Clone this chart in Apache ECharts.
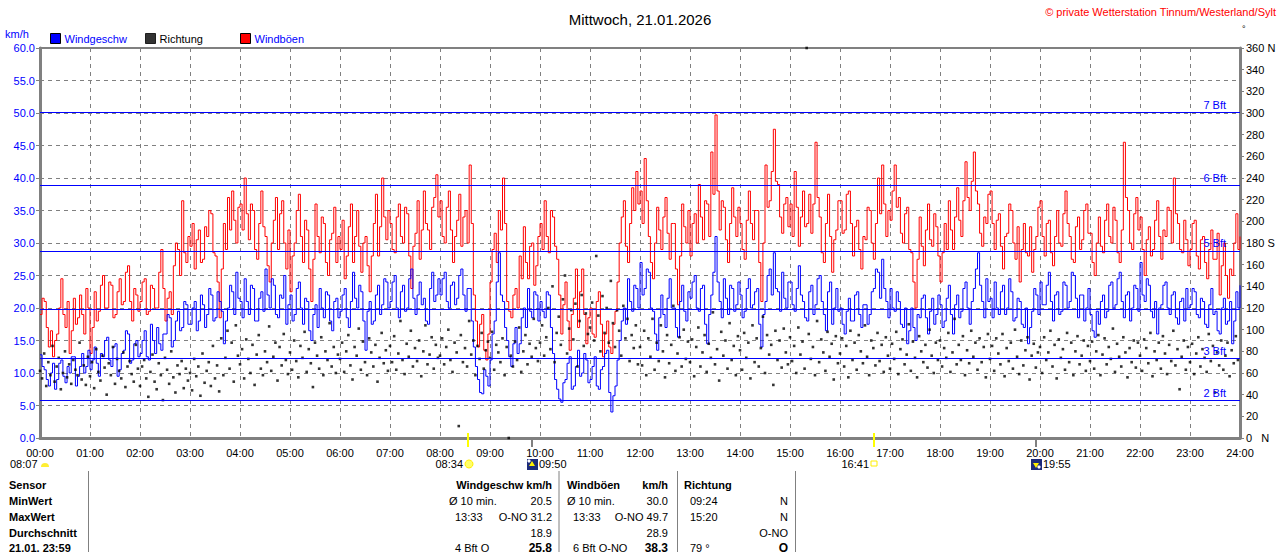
<!DOCTYPE html>
<html><head><meta charset="utf-8">
<script src="https://cdn.jsdelivr.net/npm/echarts@6/dist/echarts.min.js"></script>
<style>html,body{margin:0;padding:0;background:#fff;overflow:hidden}#c{width:1280px;height:552px}</style>
</head><body><div id="c"></div>
<script>
// ---- data ----
const stepMinutes = 2.5;          // wind speed / gust sampling
const speed = [
12.8,11.0,10.5,9.0,8.0,10.0,11.5,7.5,9.0,11.5,12.0,9.5,8.5,11.0,10.0,12.5,12.5,8.0,9.5,11.0,13.0,10.0,11.0,13.5,
10.5,12.0,14.0,11.5,9.5,13.0,12.5,15.0,15.5,12.0,11.0,14.0,14.5,9.5,10.5,13.0,13.5,16.5,16.0,11.5,12.0,14.5,15.0,12.5,
13.0,15.0,16.5,12.5,12.0,17.5,15.0,13.0,17.0,14.5,13.5,16.0,16.0,19.0,18.5,14.0,15.0,18.0,19.5,16.5,17.0,21.0,20.5,17.5,
17.5,20.0,21.0,16.5,18.0,22.0,20.5,17.0,19.0,23.0,22.0,18.0,18.5,22.5,21.0,19.5,14.5,18.0,20.0,23.5,22.5,19.0,25.5,21.5,
21.0,18.5,24.5,21.0,19.0,23.5,23.0,18.0,18.0,21.5,22.5,19.5,26.0,22.0,20.0,24.5,23.5,19.0,18.5,22.0,21.5,25.0,17.5,20.5,
22.0,18.0,19.0,23.0,24.0,20.0,17.5,21.5,21.0,16.5,15.0,19.0,20.5,17.0,23.0,20.0,18.5,22.5,22.0,18.0,16.5,21.0,21.5,18.5,
19.5,22.0,23.0,18.5,17.0,21.0,25.5,21.5,20.0,23.5,22.5,18.0,13.5,19.5,21.0,17.5,18.0,22.0,23.5,19.0,20.5,24.5,24.0,20.0,
21.0,24.0,25.0,20.0,18.5,22.5,23.5,19.5,20.0,24.5,26.0,21.5,19.0,22.0,24.0,20.5,21.5,18.0,17.5,23.0,25.5,21.0,22.0,24.5,
22.0,24.5,25.5,21.0,20.0,23.5,24.0,20.5,21.5,25.0,26.0,22.0,19.5,23.0,23.0,18.0,14.0,11.0,9.0,7.0,6.8,10.5,9.5,8.0,
12.0,16.0,18.0,24.0,28.5,22.0,21.0,17.0,15.0,12.5,11.0,14.5,17.0,13.0,14.5,18.5,20.0,17.0,23.0,19.5,18.5,22.5,22.0,18.0,
21.0,19.5,18.5,22.5,22.0,17.0,13.0,9.0,7.5,6.0,5.5,8.5,9.0,11.5,12.5,7.5,8.0,11.0,13.5,9.5,10.0,13.0,12.0,8.5,
9.0,11.0,12.5,8.0,7.5,10.5,11.0,13.0,13.5,7.0,4.0,6.5,8.0,12.0,15.0,18.0,20.0,17.5,24.5,21.0,19.5,23.5,23.0,20.0,
27.0,22.0,23.0,26.0,25.5,20.0,19.5,16.0,13.5,18.5,22.0,19.0,17.0,21.5,24.5,20.0,20.0,17.0,15.5,21.0,23.5,19.5,18.0,22.5,
21.5,24.0,25.0,20.0,19.5,23.0,23.5,17.5,14.5,19.0,22.0,25.5,31.0,24.0,21.0,18.5,24.5,21.5,19.0,23.5,23.0,19.5,20.5,24.0,
22.0,18.5,19.5,23.0,24.5,20.0,20.5,22.5,23.0,17.5,14.0,19.0,21.0,25.0,26.0,22.0,28.5,23.0,22.5,19.5,25.5,21.5,20.0,24.0,
24.0,20.5,19.5,23.0,26.5,22.0,21.0,18.5,18.0,22.5,23.5,19.0,20.5,24.5,25.0,21.0,19.0,16.5,22.5,24.0,17.5,20.0,23.0,19.5,
20.0,17.5,16.0,19.5,21.5,18.0,18.0,22.0,22.5,19.0,17.0,20.5,20.5,17.5,19.0,22.5,23.0,26.0,25.5,21.5,27.5,23.0,21.0,18.5,
23.0,20.0,19.5,22.5,21.0,17.5,17.0,20.0,14.5,16.5,20.0,17.0,15.0,19.0,18.5,21.5,22.0,18.5,16.0,19.5,21.5,17.5,19.0,22.0,
20.5,17.0,18.0,21.5,23.5,19.0,16.0,20.5,22.0,18.5,19.5,23.0,24.0,20.0,17.5,21.0,23.0,26.0,28.5,23.5,21.0,18.5,24.5,21.0,
21.5,18.5,24.0,20.0,19.0,22.5,23.5,19.0,20.0,24.5,22.5,18.0,18.5,21.5,21.0,17.5,17.0,20.0,14.5,17.0,19.5,23.0,22.0,19.0,
24.0,20.5,20.5,23.5,25.5,21.0,18.0,22.0,22.5,19.0,19.5,24.0,23.5,20.0,21.0,25.5,25.0,21.5,18.5,22.0,22.0,18.0,20.0,23.0,
19.0,16.5,15.5,19.5,17.5,21.0,22.0,18.5,19.5,23.5,24.0,20.0,20.5,24.5,25.5,21.0,18.5,22.0,22.5,18.0,20.0,23.5,23.0,19.5,
27.0,22.0,21.0,24.5,23.5,19.5,18.5,21.0,16.0,20.0,20.5,23.5,24.0,20.0,19.0,22.0,22.5,18.5,17.5,21.0,21.5,18.0,23.0,20.0,
20.5,23.0,22.5,19.0,18.5,21.5,21.0,17.5,17.0,20.5,23.0,19.0,19.5,16.5,16.0,20.0,21.5,17.5,18.0,21.0,14.5,18.0,22.5,20.0,
23.5];
const gust = [
19.0,21.5,21.0,17.0,14.0,16.5,12.5,15.0,16.0,20.0,24.5,19.0,17.0,21.0,13.0,16.5,21.5,17.5,18.5,22.0,19.0,16.0,23.0,20.0,
13.0,17.0,22.5,18.0,19.5,23.5,25.0,20.0,20.0,24.0,23.5,18.5,19.0,22.5,24.5,20.5,21.0,25.5,26.5,21.0,18.0,23.0,22.0,19.5,
21.0,24.0,24.5,19.0,19.5,23.5,23.0,20.0,20.0,25.5,29.0,23.0,18.0,21.5,22.5,19.0,26.5,30.0,29.0,25.0,36.5,28.5,27.0,31.0,
29.5,33.0,26.0,30.5,32.0,27.0,27.5,32.5,31.0,35.0,34.5,28.5,28.0,24.0,18.5,26.0,33.0,29.0,37.0,32.0,38.0,33.5,30.0,35.5,
36.0,32.0,40.0,34.5,30.5,36.0,35.0,29.0,27.5,33.0,38.0,32.5,31.0,26.5,24.0,30.0,33.5,37.0,29.0,34.5,36.5,30.0,26.0,32.0,
22.5,28.0,30.0,35.0,37.5,31.0,27.0,33.5,32.0,26.0,21.0,27.5,36.0,31.0,28.5,34.0,33.0,27.0,25.0,30.5,31.5,35.5,27.0,31.0,
29.0,33.5,24.5,28.0,32.5,36.0,27.0,31.0,35.0,29.5,25.5,30.0,31.0,26.5,22.5,28.0,33.0,37.5,28.0,32.5,40.0,34.0,30.5,35.0,
33.0,29.0,28.5,34.0,36.0,31.0,30.0,35.5,34.5,28.0,23.0,29.5,31.5,36.5,27.5,32.0,38.0,33.0,32.0,29.0,35.5,37.0,40.5,34.0,
36.5,31.0,30.0,35.5,38.0,32.0,27.0,31.0,33.5,37.5,29.5,34.0,35.0,30.0,42.0,33.0,22.0,18.0,14.0,17.5,19.0,13.5,12.0,16.0,
24.0,29.0,31.5,27.0,35.0,32.0,40.0,33.0,21.0,19.5,18.5,22.0,23.0,20.0,28.0,24.5,32.5,27.0,24.5,29.5,30.0,23.5,26.5,31.0,
33.0,29.0,36.5,31.0,28.5,35.0,34.0,29.5,27.5,22.0,16.0,20.5,24.0,18.0,13.5,19.0,21.5,26.0,17.0,22.5,26.0,19.0,14.5,18.5,
20.0,16.0,15.5,21.0,22.5,17.5,12.5,16.0,18.0,14.0,13.0,17.5,19.5,24.0,30.0,34.0,36.5,29.5,27.0,33.0,38.5,35.0,41.0,36.0,
38.0,33.0,43.0,36.5,31.0,27.0,24.5,30.0,35.5,32.0,29.0,34.0,37.0,31.5,27.5,33.0,33.0,26.0,20.5,28.0,36.0,32.5,30.0,35.0,
28.0,33.0,34.5,30.0,39.0,34.0,30.5,36.5,36.0,31.0,44.0,37.5,49.7,38.0,32.0,36.5,35.5,30.5,27.0,33.0,38.5,34.0,31.0,35.5,
33.0,29.0,27.5,33.5,38.0,33.0,30.5,35.0,35.0,27.0,21.0,30.0,42.0,35.5,36.5,41.0,47.5,39.5,39.0,34.0,31.5,36.0,37.0,32.5,
36.0,31.0,41.0,35.5,29.5,34.0,38.0,32.5,33.0,37.5,31.5,36.0,45.5,37.0,34.0,28.5,27.0,33.0,37.5,31.0,25.5,30.5,32.0,36.5,
36.5,31.5,32.0,37.5,38.0,33.0,28.0,32.5,33.5,29.0,26.0,31.0,30.5,35.5,35.0,30.0,27.5,33.0,40.0,34.5,42.0,36.0,31.0,35.0,
33.5,38.0,42.0,35.5,37.0,31.5,30.0,34.5,35.5,29.0,28.5,24.0,20.0,27.5,34.0,29.5,26.5,32.0,36.0,30.5,29.5,34.5,32.5,28.0,
24.0,28.5,33.0,29.0,36.5,32.0,29.0,34.0,38.5,33.5,31.0,36.5,42.5,37.0,35.0,39.5,44.0,38.0,36.0,31.5,29.5,34.0,33.0,37.5,
38.0,33.0,29.0,33.5,34.5,29.5,26.0,31.0,31.5,36.0,35.0,30.0,27.5,32.5,24.0,29.0,33.0,28.5,28.0,32.5,25.5,29.0,31.0,35.5,
36.5,31.0,28.0,33.0,33.5,28.5,26.5,31.0,35.0,30.0,29.5,34.5,38.0,33.0,31.0,27.5,27.0,32.5,34.0,29.0,30.5,35.0,36.0,31.5,
31.5,27.0,25.0,30.0,34.0,29.5,28.5,33.5,36.0,31.0,30.0,35.5,33.5,28.5,27.0,32.0,45.5,37.0,35.0,30.0,29.0,34.5,37.0,32.0,
34.0,29.0,25.0,30.5,32.5,28.0,29.0,33.5,36.5,31.0,27.5,32.0,31.0,35.5,35.0,30.0,40.0,34.5,33.0,29.0,28.5,33.5,30.5,26.5,
29.0,33.0,33.5,28.0,26.0,30.5,31.0,27.0,24.5,29.0,32.0,27.5,27.5,31.5,22.0,26.5,30.0,25.0,21.5,26.0,25.0,30.0,34.5,29.0,
31.0];
const dirStep = 2.5;              // direction sampling (minutes)
const direction = [
62,55,78,48,70,58,85,52,66,74,45,60,80,56,68,50,72,63,58,88,54,67,49,75,
57,70,46,82,61,53,76,65,40,69,58,84,50,73,62,55,79,47,66,71,59,52,86,64,
48,66,72,55,38,61,77,52,45,69,58,35,74,63,50,80,56,42,67,59,71,46,64,53,
60,44,73,57,66,39,78,51,62,70,48,85,55,67,43,92,58,74,99,64,88,52,104,76,
68,82,55,91,73,60,86,49,77,95,64,58,80,70,103,62,75,88,53,84,67,96,72,59,
79,63,90,71,56,85,74,98,61,82,69,47,88,76,64,93,58,80,72,106,66,84,60,77,
73,88,61,80,95,67,54,84,76,101,63,89,70,58,92,79,66,86,52,74,97,69,81,62,
85,70,94,63,78,108,72,59,87,75,99,66,83,71,90,57,80,104,68,77,93,64,86,74,
76,92,68,84,100,72,61,88,79,11,95,70,83,66,108,77,90,58,85,73,97,64,81,89,
74,98,63,86,79,70,92,58,84,0,76,66,89,72,102,61,80,95,68,87,75,110,83,71,
88,104,76,93,120,82,140,70,97,112,86,128,150,78,101,118,91,124,66,108,132,85,115,96,
102,125,90,168,113,80,131,97,120,88,145,106,84,118,99,76,122,92,110,71,95,83,104,68,
84,67,99,58,92,75,110,63,88,71,104,80,56,95,69,86,122,62,78,93,66,100,73,89,
70,91,57,84,102,66,79,95,61,87,74,116,68,82,53,98,76,90,64,106,72,85,58,94,
81,63,97,74,88,55,104,70,92,66,83,112,60,95,77,86,49,99,72,90,65,101,79,68,
93,71,85,60,102,77,89,64,360,96,73,84,58,108,70,91,79,62,98,75,87,54,94,69,
78,92,66,85,56,99,72,88,63,95,80,69,104,75,58,90,83,67,97,71,86,61,93,76,
64,87,73,98,59,82,91,68,77,105,62,89,74,56,94,80,70,86,65,100,76,60,88,72,
90,66,83,74,97,61,79,110,68,86,72,94,58,81,69,99,75,88,63,92,70,84,56,96,
73,85,62,92,78,68,96,57,83,71,88,64,100,75,59,90,67,81,93,54,76,87,65,79,
84,60,93,72,79,99,66,86,55,91,74,82,63,97,70,88,58,80,94,68,76,90,62,85,
71,89,64,80,95,58,77,92,68,84,73,101,61,87,75,66,93,79,56,83,70,90,65,88,
76,62,91,83,69,97,57,80,72,88,64,94,78,59,86,71,99,67,82,45,75,90,63,84,
70,87,59,78,93,66,82,74,61,96,71,85,42,79,67,90,63,76,88,57,81,69,94,72];
const bftLevels = [5.76, 12.24, 19.8, 28.8, 38.88, 50.04];
const bftLabels = ['2 Bft', '3 Bft', '', '5 Bft', '6 Bft', '7 Bft'];
const xTickLabels = ['00:00','01:00','02:00','03:00','04:00','05:00','06:00','07:00','08:00','09:00','10:00','11:00','12:00',
  '13:00','14:00','15:00','16:00','17:00','18:00','19:00','20:00','21:00','22:00','23:00','24:00'];
const dirNamedTicks = {0: '0   N', 180: '180 S', 360: '360 N'};
const astroTimes = ['08:34', '09:50', '16:41', '19:55'];
const astroKinds = ['sunrise', 'moonset', 'sunset', 'moonrise'];
const firstAstro = '08:07';
const tableRows = ['Sensor', 'MinWert', 'MaxWert', 'Durchschnitt', '21.01. 23:59'];
const tblSpeed = ['Ø 10 min.', '20.5', '13:33', 'O-NO 31.2', '18.9', '4 Bft O', '25.8'];
const tblGust = ['Ø 10 min.', '30.0', '13:33', 'O-NO 49.7', '28.9', '6 Bft O-NO', '38.3'];
const tblDir = ['09:24', 'N', '15:20', 'N', 'O-NO', '79 °', 'O'];

// ---- chart ----
const FONT = "'Liberation Sans', Arial, sans-serif";
const chart = echarts.init(document.getElementById('c'), null, {renderer: 'svg'});
const speedData = speed.map((v, i) => [i * stepMinutes, v]);
const gustData = gust.map((v, i) => [i * stepMinutes, v]);
const dirData = direction.map((v, i) => [i * dirStep, v]);
const GRID = '#808080';

function legendItem(name, left, color) {
  return {data: [{name: name, textStyle: {color: color}}], left: left, top: 33, padding: 0,
    itemWidth: 10, itemHeight: 10, itemGap: 0, icon: 'rect', selectedMode: false,
    itemStyle: {borderColor: '#000', borderWidth: 1},
    textStyle: {fontFamily: FONT, fontSize: 11, padding: [0, 0, 0, -1]}};
}

const option = {
  animation: false,
  backgroundColor: '#fff',
  title: {text: 'Mittwoch, 21.01.2026', left: 'center', top: 7,
    textStyle: {fontFamily: FONT, fontSize: 15, fontWeight: 'normal', color: '#000'}},
  legend: [legendItem('Windgeschw', 50, '#0000ff'), legendItem('Richtung', 145, '#000'), legendItem('Windböen', 240, '#0000ff')],
  grid: {left: 40, right: 40, top: 48, bottom: 114, show: true, borderColor: GRID, borderWidth: 2, backgroundColor: 'transparent'},
  xAxis: {type: 'value', min: 0, max: 1440, interval: 60,
    axisLine: {lineStyle: {color: GRID, width: 3}}, axisTick: {show: false},
    axisLabel: {margin: 9, color: '#000', fontFamily: FONT, fontSize: 11, formatter: v => xTickLabels[v / 60]},
    splitLine: {show: true, lineStyle: {color: GRID, type: [4, 4], width: 1}}},
  yAxis: [
    {type: 'value', min: 0, max: 60, interval: 5, position: 'left',
      axisLine: {show: true, lineStyle: {color: GRID, width: 3}},
      axisTick: {show: true, length: 4, lineStyle: {color: GRID}},
      axisLabel: {margin: 5, color: '#0000ff', fontFamily: FONT, fontSize: 11, formatter: v => v.toFixed(1)},
      splitLine: {show: true, lineStyle: {color: GRID, type: [4, 4], width: 1}}},
    {type: 'value', min: 0, max: 360, interval: 20, position: 'right',
      axisLine: {show: true, lineStyle: {color: GRID, width: 3}},
      axisTick: {show: true, length: 4, lineStyle: {color: GRID}},
      axisLabel: {margin: 6, color: '#000', fontFamily: FONT, fontSize: 11,
        formatter: v => (dirNamedTicks[v] !== undefined ? dirNamedTicks[v] : String(v))},
      splitLine: {show: false}}
  ],
  series: [
    {name: 'bft', type: 'line', data: [], z: 1, silent: true,
      markLine: {silent: true, symbol: 'none', animation: false,
        lineStyle: {color: '#0000ff', type: 'solid', width: 1},
        label: {show: true, position: 'insideEndTop', distance: [14, 2], color: '#0000ff',
          fontFamily: FONT, fontSize: 11, formatter: p => p.name},
        data: bftLevels.map((v, i) => ({yAxis: v, name: bftLabels[i]}))}},
    {name: 'Windböen', type: 'line', step: 'end', data: gustData, z: 2, showSymbol: false, symbol: 'none',
      color: '#ff0000', lineStyle: {color: '#ff0000', width: 1}, silent: true},
    {name: 'Windgeschw', type: 'line', step: 'end', data: speedData, z: 3, showSymbol: false, symbol: 'none',
      color: '#0000ff', lineStyle: {color: '#0000ff', width: 1}, silent: true},
    {name: 'Richtung', type: 'scatter', yAxisIndex: 1, data: dirData, z: 4, symbol: 'rect', symbolSize: 2.6,
      color: '#000', itemStyle: {color: '#000'}, silent: true}
  ]
};
chart.setOption(option);

// ---- decorations & table ----
function txt(x, y, s, align, opts) {
  opts = opts || {};
  return {type: 'text', x: x, y: y, silent: true, z: 20,
    style: {text: s, fill: opts.color || '#000', align: align || 'left', verticalAlign: 'middle',
      textAlign: align || 'left', textVerticalAlign: 'middle',
      font: (opts.bold ? 'bold ' : '') + (opts.size || 11) + 'px ' + FONT}};
}
function minutesOf(t) { const p = t.split(':').map(Number); return p[0] * 60 + p[1]; }
const g = [];
g.push(txt(5, 34, 'km/h', 'left', {color: '#0000ff'}));
g.push(txt(1276, 12, '© private Wetterstation Tinnum/Westerland/Sylt', 'right', {color: '#ff0000'}));
g.push(txt(1242, 29, '°', 'left', {size: 9}));
g.push(txt(10, 464, firstAstro, 'left'));
g.push({type: 'sector', shape: {cx: 45, cy: 467, r0: 0, r: 4, startAngle: Math.PI, endAngle: 2 * Math.PI}, style: {fill: '#ffee33'}, z: 20});
astroTimes.forEach((t, i) => {
  const px = Math.round(chart.convertToPixel({xAxisIndex: 0}, minutesOf(t)));
  const kind = astroKinds[i];
  if (kind === 'sunrise' || kind === 'sunset') {
    g.push({type: 'line', shape: {x1: px, y1: 433, x2: px, y2: 447}, style: {stroke: '#ffff00', lineWidth: 2}, z: 20});
    if (kind === 'sunrise') {
      g.push({type: 'circle', shape: {cx: px + 1, cy: 464, r: 4}, style: {fill: '#ffff66', stroke: '#ffee00', lineWidth: 1}, z: 20});
    } else {
      g.push({type: 'rect', shape: {x: px - 3, y: 461, width: 6, height: 5}, style: {fill: '#fff', stroke: '#ffee00', lineWidth: 1}, z: 20});
    }
    g.push(txt(px - 5, 464, t, 'right'));
  } else {
    g.push({type: 'line', shape: {x1: px, y1: 438, x2: px, y2: 447}, style: {stroke: '#808080', lineWidth: 2}, z: 20});
    g.push({type: 'rect', shape: {x: px - 5, y: 459, width: 11, height: 11}, style: {fill: '#1c2a7a'}, z: 20});
    const up = kind === 'moonset';
    g.push({type: 'polygon', shape: {points: up ? [[px, 461], [px - 3, 466], [px + 3, 466]] : [[px, 468], [px - 3, 463], [px + 3, 463]]},
      style: {fill: '#ffee00'}, z: 21});
    g.push({type: 'circle', shape: {cx: up ? px - 3 : px + 3, cy: up ? 461 : 467, r: 1.6}, style: {fill: '#ffffff'}, z: 21});
    g.push(txt(px + 7, 464, t, 'left'));
  }
});
// table
const rowY = [485, 501, 517, 533, 548];
tableRows.forEach((r, i) => g.push(txt(9, rowY[i], r, 'left', {bold: true})));
[88.5, 559, 677.5, 795.5].forEach(x => g.push({type: 'line', shape: {x1: x, y1: 471, x2: x, y2: 552}, style: {stroke: '#808080', lineWidth: 1}, z: 20}));
g.push(txt(552, rowY[0], 'Windgeschw km/h', 'right', {bold: true}));
g.push(txt(449, rowY[1], tblSpeed[0], 'left'));
g.push(txt(552, rowY[1], tblSpeed[1], 'right'));
g.push(txt(455, rowY[2], tblSpeed[2], 'left'));
g.push(txt(552, rowY[2], tblSpeed[3], 'right'));
g.push(txt(552, rowY[3], tblSpeed[4], 'right'));
g.push(txt(455, rowY[4], tblSpeed[5], 'left'));
g.push(txt(552, rowY[4], tblSpeed[6], 'right', {bold: true, size: 12}));
g.push(txt(567, rowY[0], 'Windböen', 'left', {bold: true}));
g.push(txt(668, rowY[0], 'km/h', 'right', {bold: true}));
g.push(txt(567, rowY[1], tblGust[0], 'left'));
g.push(txt(668, rowY[1], tblGust[1], 'right'));
g.push(txt(573, rowY[2], tblGust[2], 'left'));
g.push(txt(668, rowY[2], tblGust[3], 'right'));
g.push(txt(668, rowY[3], tblGust[4], 'right'));
g.push(txt(573, rowY[4], tblGust[5], 'left'));
g.push(txt(668, rowY[4], tblGust[6], 'right', {bold: true, size: 12}));
g.push(txt(684, rowY[0], 'Richtung', 'left', {bold: true}));
g.push(txt(690, rowY[1], tblDir[0], 'left'));
g.push(txt(788, rowY[1], tblDir[1], 'right'));
g.push(txt(690, rowY[2], tblDir[2], 'left'));
g.push(txt(788, rowY[2], tblDir[3], 'right'));
g.push(txt(788, rowY[3], tblDir[4], 'right'));
g.push(txt(690, rowY[4], tblDir[5], 'left'));
g.push(txt(788, rowY[4], tblDir[6], 'right', {bold: true, size: 12}));
chart.setOption({graphic: g});
</script>
</body></html>
